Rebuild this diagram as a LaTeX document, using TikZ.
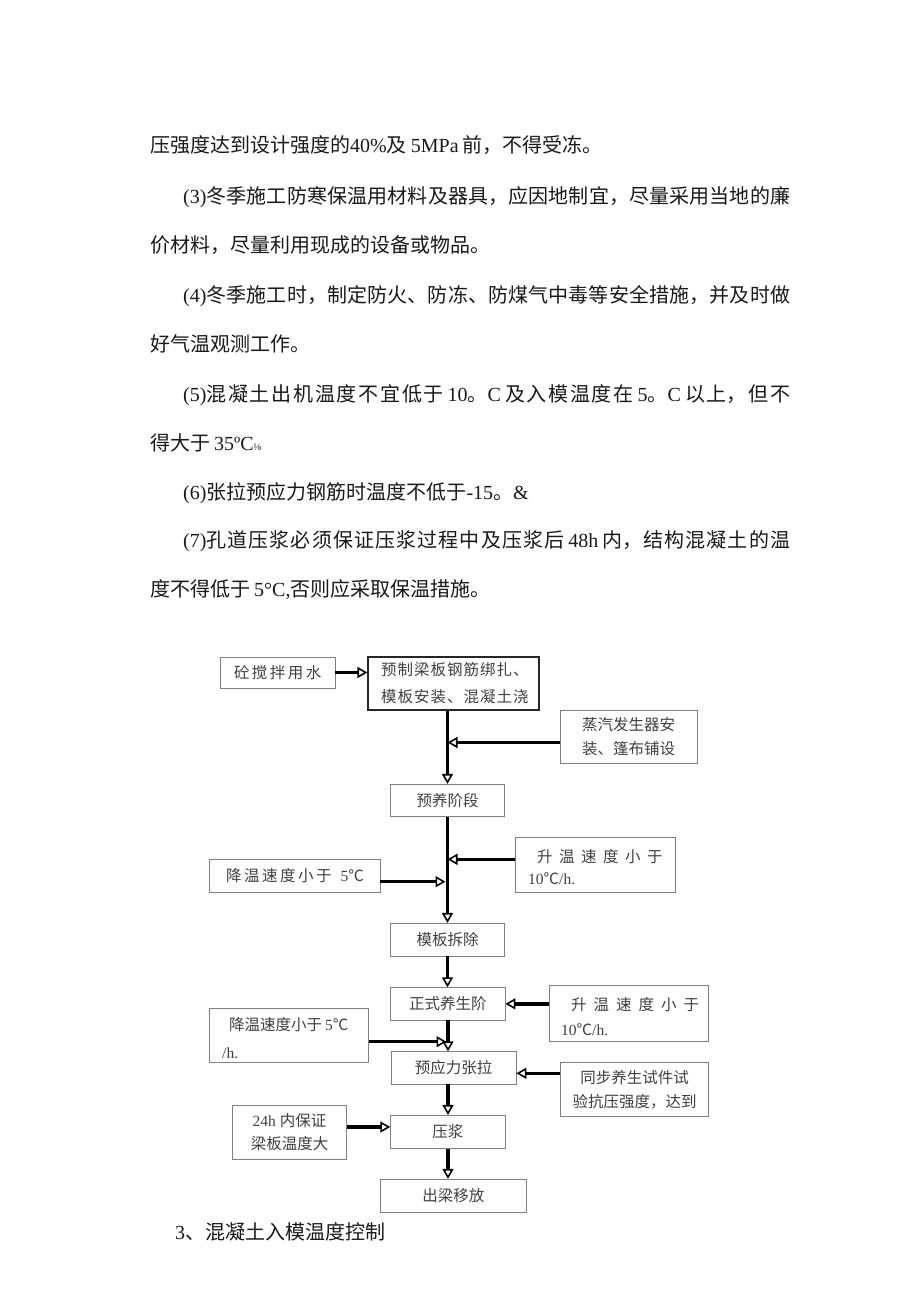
\documentclass[tikz,border=0pt]{standalone}
\usepackage{fontspec}
\setmainfont{Noto Sans CJK SC}
\newfontfamily\tm{Liberation Serif}
\usetikzlibrary{arrows.meta}
\XeTeXlinebreaklocale "zh"
\XeTeXlinebreakskip=0pt plus 3pt minus 0.5pt
\newcommand\Tm[1]{{\tm #1}}
\newcommand\gapsp{\hspace{4pt}}
\newcommand\jline[1]{\parbox[b]{607pt}{\parindent=0pt\parfillskip=0pt\relax #1\par}}
\begin{document}
\begin{tikzpicture}[x=1pt,y=-1pt,
  body/.style={anchor=base west, inner sep=0pt, font=\fontsize{20}{24}\selectfont, text=black!90},
  box/.style={draw=black!50, line width=0.8pt, inner sep=0pt, font=\fontsize{15.5}{15.5}\selectfont, text=black!75},
  mainbox/.style={box, draw=black!85, line width=1.2pt},
  ft/.style={anchor=base west, inner sep=0pt, font=\fontsize{15.5}{15.5}\selectfont, text=black!75},
  arr/.style={line width=3.4pt, -{Triangle[open,length=10pt,width=11pt,line width'=1.6pt]}}
]
\useasboundingbox[fill=white] (0,0) rectangle (920,1302);

% ---- body text ----
\node[body] (l1) at (150,152) {压强度达到设计强度的\Tm{40\%}及\gapsp\Tm{5MPa}\gapsp 前，不得受冻。};
\node[body] (l2) at (183,203) {\jline{\Tm{(3)}冬季施工防寒保温用材料及器具，应因地制宜，尽量采用当地的廉}};
\node[body] (l3) at (150,252) {价材料，尽量利用现成的设备或物品。};
\node[body] (l4) at (183,302) {\jline{\Tm{(4)}冬季施工时，制定防火、防冻、防煤气中毒等安全措施，并及时做}};
\node[body] (l5) at (150,351) {好气温观测工作。};
\node[body] (l6) at (183,401) {\jline{\Tm{(5)}混凝土出机温度不宜低于\gapsp\Tm{10}。\Tm{C}\gapsp 及入模温度在\gapsp\Tm{5}。\Tm{C}\gapsp 以上，但不}};
\node[body] (l7) at (150,450) {得大于\gapsp\Tm{35ºC}{\tm\fontsize{10}{10}\selectfont ⅛}};
\node[body] (l8) at (183,499) {\Tm{(6)}张拉预应力钢筋时温度不低于\Tm{-15}。\Tm{\&}};
\node[body] (l9) at (183,547) {\jline{\Tm{(7)}孔道压浆必须保证压浆过程中及压浆后\gapsp\Tm{48h}\gapsp 内，结构混凝土的温}};
\node[body] (l10) at (150,596) {度不得低于\gapsp\Tm{5°C,}否则应采取保温措施。};
\node[body] (head) at (175,1239) {\Tm{3}、混凝土入模温度控制};

% ---- flowchart boxes ----
\node[box, minimum width=114.5pt, minimum height=31pt] (water) at (277.75,672.5) {砼\hspace{2.5pt}搅\hspace{2.5pt}拌\hspace{2.5pt}用\hspace{2.5pt}水};
\node[mainbox, minimum width=171pt, minimum height=53pt] (main) at (453.5,683.5) {};
\node[ft] (main1) at (381,675.5) {预\hspace{1pt}制\hspace{1pt}梁\hspace{1pt}板\hspace{1pt}钢\hspace{1pt}筋\hspace{1pt}绑\hspace{1pt}扎\hspace{1pt}、};
\node[ft] (main2) at (381,702.5) {模\hspace{1pt}板\hspace{1pt}安\hspace{1pt}装\hspace{1pt}、\hspace{1pt}混\hspace{1pt}凝\hspace{1pt}土\hspace{1pt}浇};
\node[box, minimum width=137pt, minimum height=53.5pt, align=center] (steam) at (628.5,736.75) {蒸汽发生器安\\[8pt]装、篷布铺设};
\node[box, minimum width=113.6pt, minimum height=32.4pt] (yuyang) at (447.5,800.5) {预养阶段};
\node[box, minimum width=159.3pt, minimum height=54.6pt] (up1) at (595.35,865) {};
\node[ft] (up1a) at (537,862.5) {升\hspace{6.5pt}温\hspace{6.5pt}速\hspace{6.5pt}度\hspace{6.5pt}小\hspace{6.5pt}于};
\node[ft] (up1b) at (528,884.5) {\Tm{10}℃\Tm{/h.}};
\node[box, minimum width=170.7pt, minimum height=33pt] (down1) at (294.65,875.8) {};
\node[ft] (down1a) at (226,881.5) {降\hspace{2.5pt}温\hspace{2.5pt}速\hspace{2.5pt}度\hspace{2.5pt}小\hspace{2.5pt}于\hspace{9pt}\Tm{5}℃};
\node[box, minimum width=113.6pt, minimum height=32.7pt] (muban) at (447.5,939.65) {模板拆除};
\node[box, minimum width=114.3pt, minimum height=32.3pt] (zhengshi) at (447.85,1003.85) {正式养生阶};
\node[box, minimum width=158.6pt, minimum height=56pt] (up2) at (629,1013) {};
\node[ft] (up2a) at (571,1010.5) {升\hspace{7pt}温\hspace{7pt}速\hspace{7pt}度\hspace{7pt}小\hspace{7pt}于};
\node[ft] (up2b) at (561,1035.5) {\Tm{10}℃\Tm{/h.}};
\node[box, minimum width=159.4pt, minimum height=53.6pt] (down2) at (289,1035.5) {};
\node[ft] (down2a) at (229,1030.5) {降温速度小于\hspace{3pt}\Tm{5}℃};
\node[ft] (down2b) at (222,1058.5) {\Tm{/h.}};
\node[box, minimum width=125pt, minimum height=32.3pt] (yingli) at (453.5,1067.85) {预应力张拉};
\node[box, minimum width=147.6pt, minimum height=54pt, align=center] (tongbu) at (634.5,1089.7) {同步养生试件试\\[8pt]验抗压强度，达到};
\node[box, minimum width=114.4pt, minimum height=54.3pt, align=center] (h24) at (289.5,1132.15) {\Tm{24h}\hspace{4pt}内保证\\[7pt]梁板温度大};
\node[box, minimum width=114.3pt, minimum height=33pt] (yajiang) at (447.85,1131.85) {压浆};
\node[box, minimum width=146.7pt, minimum height=33pt] (chuliang) at (453.35,1195.8) {出梁移放};

% ---- junction coordinates on the trunk ----
\coordinate (j1) at (447.5,742.5);
\coordinate (j2) at (447.5,859.3);
\coordinate (j3) at (445.5,881.7);
\coordinate (j4) at (446.5,1041.7);

% ---- connectors ----
\draw[arr] (water.east) -- (main.west |- water.east);
\draw[arr] (main.south -| yuyang.north) -- (yuyang.north);
\draw[arr] (steam.west |- j1) -- (j1);
\draw[arr] (yuyang.south) -- (muban.north);
\draw[arr] (up1.west |- j2) -- (j2);
\draw[arr] (down1.east |- j3) -- (j3);
\draw[arr] (muban.south) -- (zhengshi.north -| muban.south);
\draw[arr] (up2.west |- zhengshi.east) -- (zhengshi.east);
\draw[arr] (zhengshi.south -| 448,0) -- (yingli.north -| 448,0);
\draw[arr] (down2.east |- j4) -- (j4);
\draw[arr] (tongbu.west |- 0,1073.3) -- (yingli.east |- 0,1073.3);
\draw[arr] (yingli.south -| 448,0) -- (yajiang.north -| 448,0);
\draw[arr] (h24.east |- 0,1127) -- (yajiang.west |- 0,1127);
\draw[arr] (yajiang.south -| 448,0) -- (chuliang.north -| 448,0);
\end{tikzpicture}
\end{document}
